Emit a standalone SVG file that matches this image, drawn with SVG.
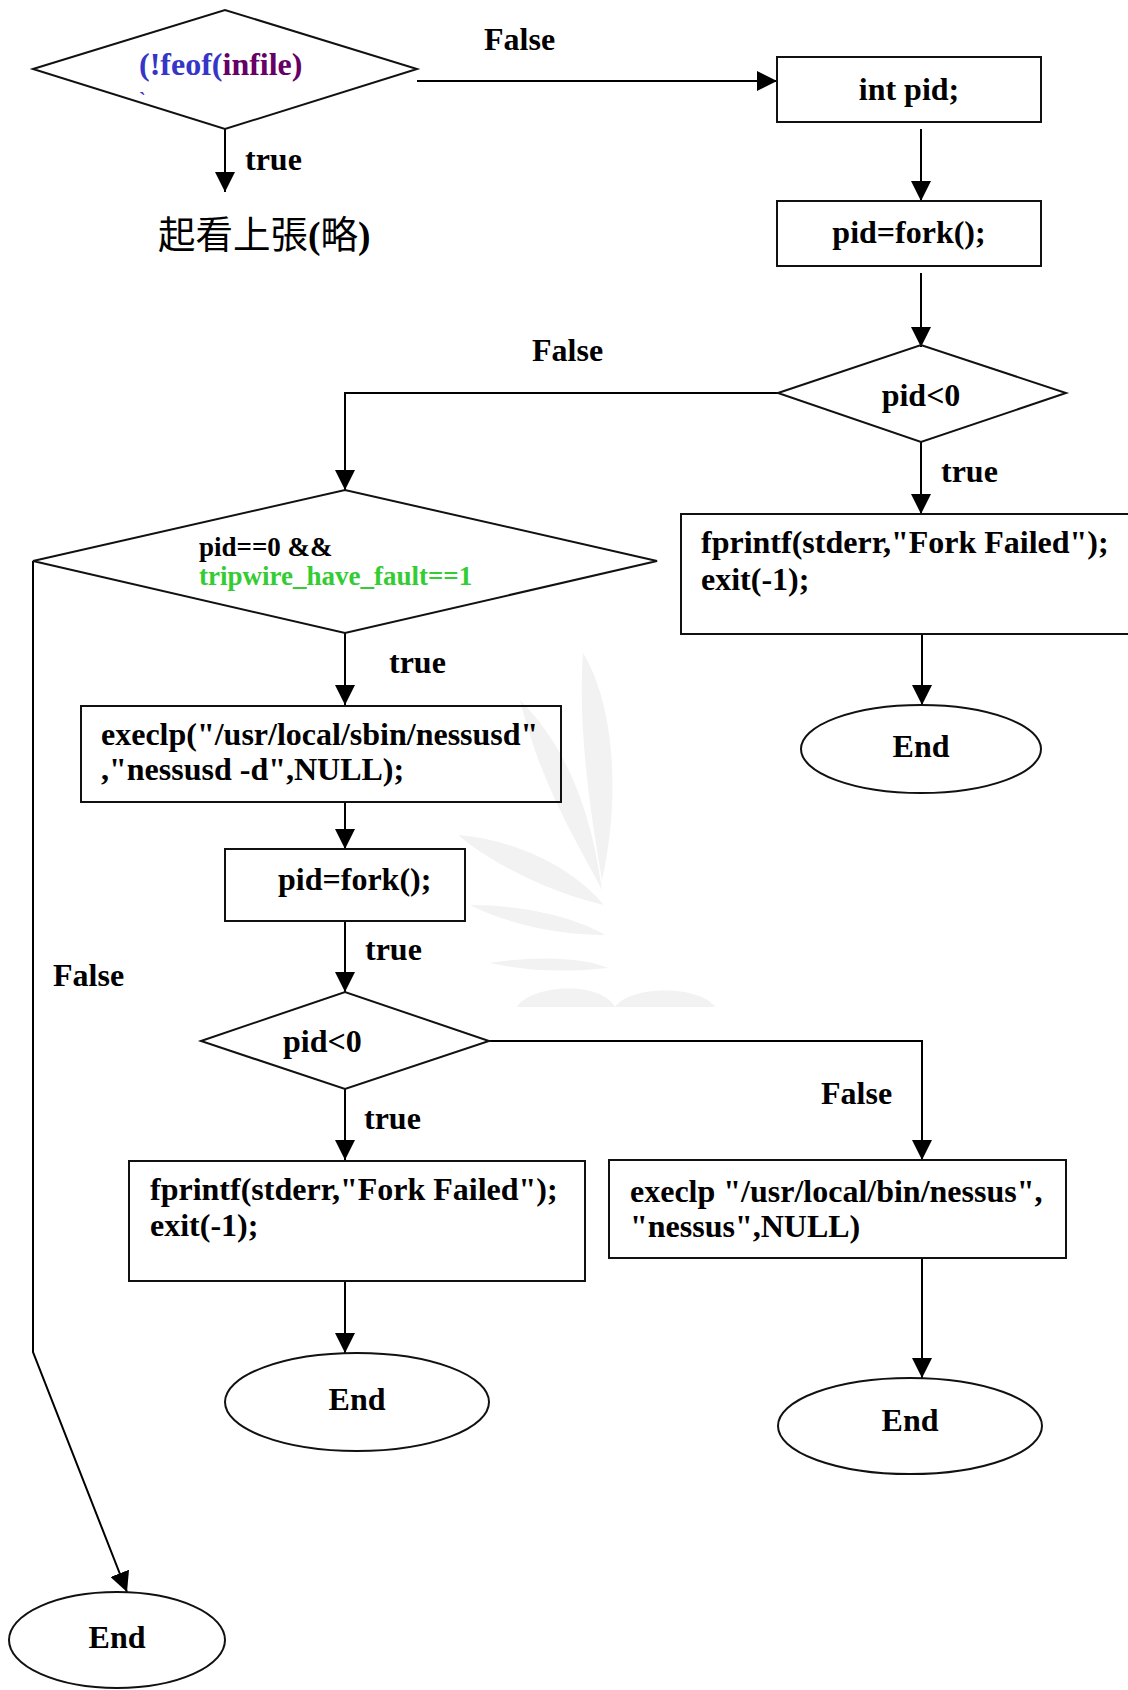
<svg xmlns="http://www.w3.org/2000/svg" width="1128" height="1690" viewBox="0 0 1128 1690">
<defs>
<style>
.shape{fill:none;stroke:#111;stroke-width:2}
.t{font-family:"Liberation Serif","Times New Roman",serif;font-weight:bold;font-size:32px;fill:#000}
.s{font-size:27px}
.c{text-anchor:middle}
.edge{fill:none;stroke:#000;stroke-width:2}
.wm{fill:#f2f2f2;stroke:none}
</style>
<marker id="arr" markerUnits="userSpaceOnUse" markerWidth="20" markerHeight="20" refX="20" refY="10" orient="auto">
<path d="M0,0 L20,10 L0,20 Z" fill="#000"/>
</marker>
</defs>
<rect width="1128" height="1690" fill="#fff"/>
<g id="watermark">
<path class="wm" d="M583,653 C612,700 622,790 602,880 C588,800 578,720 583,653 Z"/>
<path class="wm" d="M520,700 C560,740 590,800 602,890 C570,830 540,780 520,700 Z"/>
<path class="wm" d="M458,835 C520,840 575,870 604,905 C560,895 500,870 458,835 Z"/>
<path class="wm" d="M470,905 C530,905 580,920 605,935 C560,935 510,925 470,905 Z"/>
<path class="wm" d="M490,963 C540,955 585,958 608,968 C570,972 530,972 490,963 Z"/>
<path class="wm" d="M517,1007 C530,985 600,980 615,1007 Z"/>
<path class="wm" d="M615,1007 C630,985 700,985 715,1007 Z"/>
</g>
<g id="connectors">
<path class="edge" d="M225,129 V192" marker-end="url(#arr)"/>
<path class="edge" d="M417,81 H777" marker-end="url(#arr)"/>
<path class="edge" d="M921,129 V201" marker-end="url(#arr)"/>
<path class="edge" d="M921,273 V347" marker-end="url(#arr)"/>
<path class="edge" d="M778,393 H345 V490" marker-end="url(#arr)"/>
<path class="edge" d="M921,442 V514" marker-end="url(#arr)"/>
<path class="edge" d="M922,634 V705" marker-end="url(#arr)"/>
<path class="edge" d="M345,633 V705" marker-end="url(#arr)"/>
<path class="edge" d="M345,802 V849" marker-end="url(#arr)"/>
<path class="edge" d="M345,921 V992" marker-end="url(#arr)"/>
<path class="edge" d="M345,1089 V1160" marker-end="url(#arr)"/>
<path class="edge" d="M489,1041 H922 V1160" marker-end="url(#arr)"/>
<path class="edge" d="M922,1258 V1378" marker-end="url(#arr)"/>
<path class="edge" d="M345,1281 V1353" marker-end="url(#arr)"/>
<path class="edge" d="M33,561 V1352 L127,1592" marker-end="url(#arr)"/>
</g>
<g id="labels">
<text class="t" x="484" y="50">False</text>
<text class="t" x="245" y="170">true</text>
<text class="t" x="532" y="361">False</text>
<text class="t" x="941" y="482">true</text>
<text class="t" x="389" y="673">true</text>
<text class="t" x="365" y="960">true</text>
<text class="t" x="53" y="986">False</text>
<text class="t" x="364" y="1129">true</text>
<text class="t" x="821" y="1104">False</text>
</g>
<g id="cond-feof">
<polygon class="shape" points="33,69 225,10 417,69 225,129"/>
<text class="t" x="139" y="75" style="font-size:32px"><tspan style="fill:#3535c8">(!feof(</tspan><tspan style="fill:#660066">infile)</tspan></text>
<text class="t" x="139" y="107" style="font-size:20px;fill:#3535c8">`</text>
</g>
<g id="see-previous">
<text x="158" y="248" font-size="37.5" font-family="'Noto Sans CJK TC','Noto Sans CJK SC',sans-serif">起看上張<tspan font-family="'Liberation Serif',serif" font-weight="bold">(</tspan>略<tspan font-family="'Liberation Serif',serif" font-weight="bold">)</tspan></text>
</g>
<g id="int-pid">
<rect class="shape" x="777" y="57" width="264" height="65"/>
<text class="t c" x="909" y="100">int pid;</text>
</g>
<g id="fork1">
<rect class="shape" x="777" y="201" width="264" height="65"/>
<text class="t c" x="909" y="243">pid=fork();</text>
</g>
<g id="cond-pid1">
<polygon class="shape" points="778,393 921,345 1066,393 921,442"/>
<text class="t c" x="921" y="406">pid&lt;0</text>
</g>
<g id="cond-child">
<polygon class="shape" points="33,561 345,490 657,561 345,633"/>
<text class="t s" x="199" y="556">pid==0 &amp;&amp;</text>
<text class="t s" x="199" y="585" style="fill:#33cc33">tripwire_have_fault==1</text>
</g>
<g id="fail1">
<rect class="shape" x="681" y="514" width="460" height="120"/>
<text class="t" x="701" y="553">fprintf(stderr,"Fork Failed");</text>
<text class="t" x="701" y="590">exit(-1);</text>
</g>
<g id="end1">
<ellipse class="shape" cx="921" cy="749" rx="120" ry="44"/>
<text class="t c" x="921" y="757">End</text>
</g>
<g id="exec-nessusd">
<rect class="shape" x="81" y="706" width="480" height="96"/>
<text class="t" x="101" y="745">execlp("/usr/local/sbin/nessusd"</text>
<text class="t" x="101" y="780">,"nessusd -d",NULL);</text>
</g>
<g id="fork2">
<rect class="shape" x="225" y="849" width="240" height="72"/>
<text class="t" x="278" y="890">pid=fork();</text>
</g>
<g id="cond-pid2">
<polygon class="shape" points="201,1041 345,992 489,1041 345,1089"/>
<text class="t" x="283" y="1052">pid&lt;0</text>
</g>
<g id="fail2">
<rect class="shape" x="129" y="1161" width="456" height="120"/>
<text class="t" x="150" y="1200">fprintf(stderr,"Fork Failed");</text>
<text class="t" x="150" y="1236">exit(-1);</text>
</g>
<g id="exec-nessus">
<rect class="shape" x="609" y="1160" width="457" height="98"/>
<text class="t" x="630" y="1202">execlp "/usr/local/bin/nessus",</text>
<text class="t" x="630" y="1237">"nessus",NULL)</text>
</g>
<g id="end2">
<ellipse class="shape" cx="357" cy="1402" rx="132" ry="49"/>
<text class="t c" x="357" y="1410">End</text>
</g>
<g id="end3">
<ellipse class="shape" cx="910" cy="1426" rx="132" ry="48"/>
<text class="t c" x="910" y="1431">End</text>
</g>
<g id="end4">
<ellipse class="shape" cx="117" cy="1640" rx="108" ry="48"/>
<text class="t c" x="117" y="1648">End</text>
</g>
</svg>
